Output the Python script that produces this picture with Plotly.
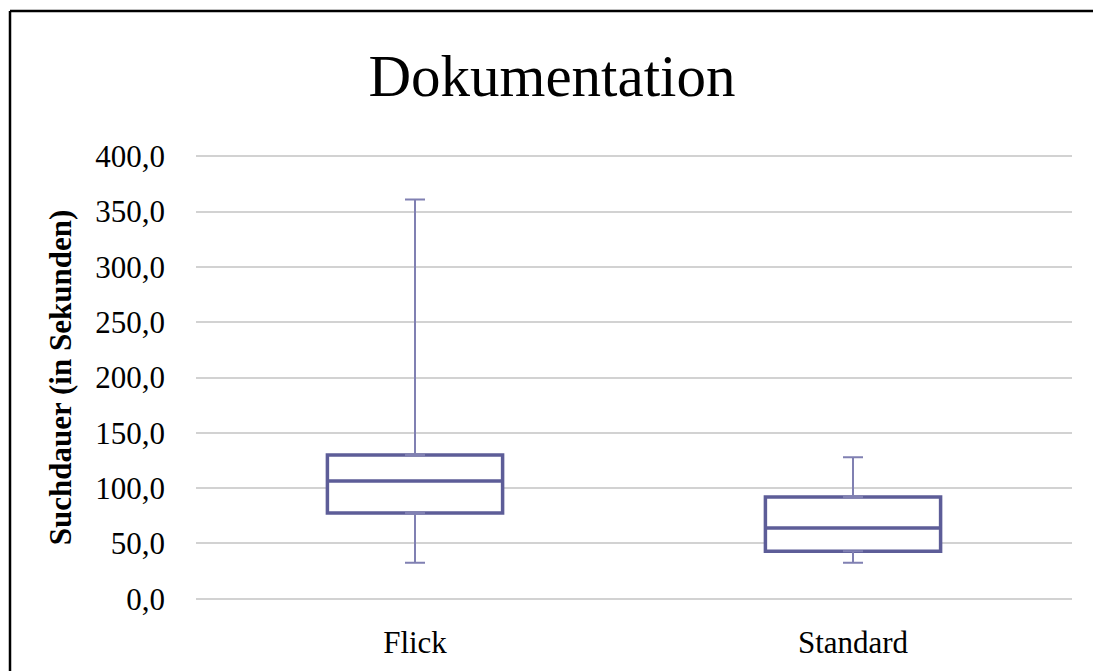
import plotly.graph_objects as go

categories = ["Flick", "Standard"]
lower_whisker = [32.5, 32.5]
q1_values = [77.5, 43.0]
median_values = [106.5, 64.0]
q3_values = [130.0, 92.0]
upper_whisker = [361.0, 128.0]
y_ticks = [0, 50, 100, 150, 200, 250, 300, 350, 400]

box_color = "#5d5d98"
whisker_color = "#8080b2"
serif = "Liberation Serif, Times New Roman, serif"

fig = go.Figure()

# whiskers (upper and lower) drawn via error bars from box edges
fig.add_trace(go.Scatter(
    x=categories, y=q3_values, mode="markers",
    marker=dict(size=0.1, color="rgba(0,0,0,0)"),
    error_y=dict(type="data", symmetric=False,
                 array=[u - q for u, q in zip(upper_whisker, q3_values)],
                 arrayminus=[0, 0], color=whisker_color, thickness=2, width=10),
    hoverinfo="skip", showlegend=False,
))
fig.add_trace(go.Scatter(
    x=categories, y=q1_values, mode="markers",
    marker=dict(size=0.1, color="rgba(0,0,0,0)"),
    error_y=dict(type="data", symmetric=False,
                 array=[0, 0],
                 arrayminus=[q - l for q, l in zip(q1_values, lower_whisker)],
                 color=whisker_color, thickness=2, width=10),
    hoverinfo="skip", showlegend=False,
))

fig.add_trace(go.Box(
    x=categories, q1=q1_values, median=median_values, q3=q3_values,
    lowerfence=q1_values, upperfence=q3_values,
    fillcolor="rgba(255,255,255,1)",
    line=dict(color=box_color, width=3.5),
    whiskerwidth=0, width=0.4, boxpoints=False, showlegend=False,
))

L, R, T, B = 196, 21, 153, 69
W, H = 1093, 671
pw, ph = W - L - R, H - T - B

def px_x(x):
    return (x - L) / pw

def px_y(y):
    return (H - B - y) / ph

fig.update_layout(
    width=W, height=H,
    margin=dict(l=L, r=R, t=T, b=B),
    paper_bgcolor="white", plot_bgcolor="white",
    separators=",.",
    font=dict(family=serif, color="black"),
    title=dict(text="Dokumentation", x=0.505, xref="container", xanchor="center",
               y=0.888, yanchor="middle", font=dict(size=59, family=serif, color="black")),
    xaxis=dict(range=[-0.5, 1.5], showgrid=False, showline=False, zeroline=False,
               tickfont=dict(size=31, family=serif, color="black"),
               ticklabelstandoff=19),
    yaxis=dict(range=[-3, 403], tickvals=y_ticks, tickformat=".1f",
               showgrid=True, gridcolor="#d2d2d2", gridwidth=1.5,
               zeroline=False, showline=False,
               tickfont=dict(size=31, family=serif, color="black"),
               ticklabelstandoff=30,
               title=dict(text="<b>Suchdauer (in Sekunden)</b>",
                          font=dict(size=31, family=serif, color="black"),
                          standoff=14)),
    shapes=[
        dict(type="line", xref="paper", yref="paper",
             x0=px_x(10), x1=px_x(1100), y0=px_y(11), y1=px_y(11),
             line=dict(color="black", width=2.5)),
        dict(type="line", xref="paper", yref="paper",
             x0=px_x(10), x1=px_x(10), y0=px_y(11), y1=px_y(680),
             line=dict(color="black", width=2.5)),
    ],
)

fig.write_html("out.html", config={"displayModeBar": False},
               post_script="document.body.style.margin='0px';")
